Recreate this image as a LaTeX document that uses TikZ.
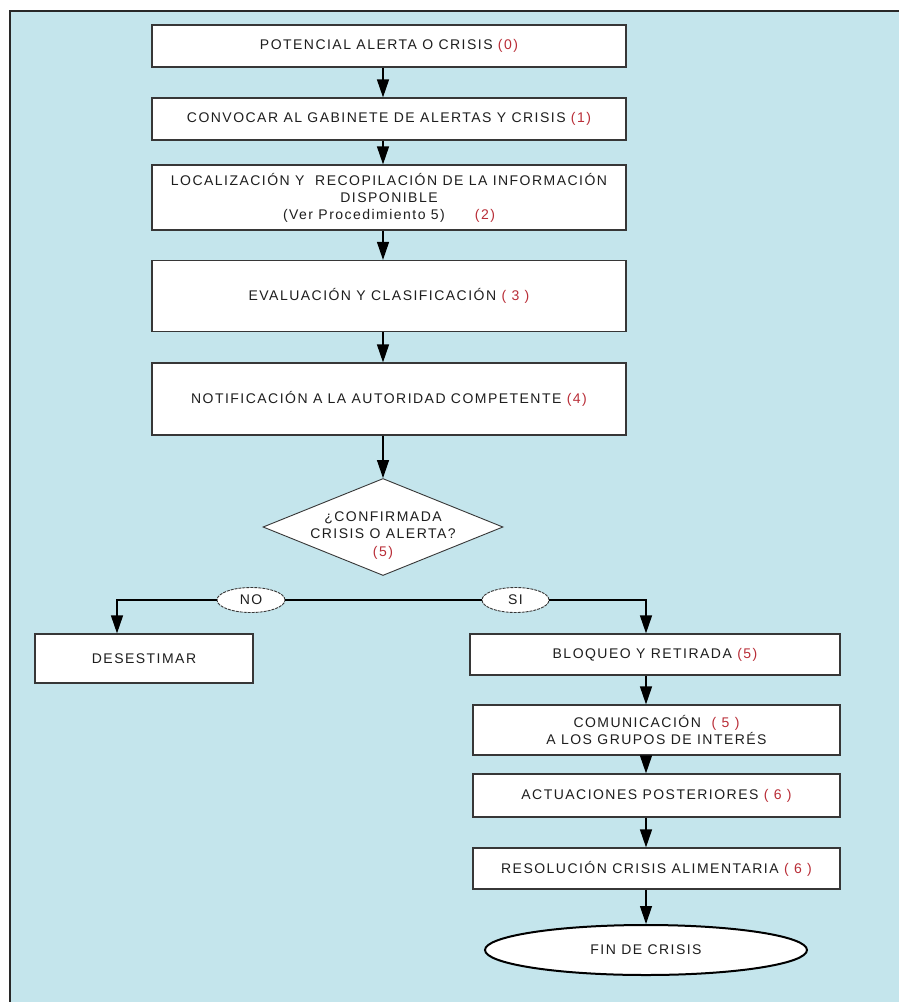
\documentclass[tikz,border=0pt]{standalone}
\usepackage{fontspec}
\newfontfamily\chartfont{Liberation Sans}[LetterSpace=10.5]
\usetikzlibrary{shapes.geometric,arrows.meta}

\definecolor{bgblue}{RGB}{196,229,236}
\definecolor{framegray}{RGB}{40,40,40}
\definecolor{boxline}{RGB}{55,55,55}
\definecolor{textgray}{RGB}{30,30,30}
\definecolor{numred}{RGB}{185,45,55}
\newcommand{\stepnum}[1]{\textcolor{numred}{#1}}

\tikzset{
  stepbox/.style={draw=boxline, line width=1.2pt, fill=white, align=center,
    font=\chartfont\fontsize{14}{17}\selectfont, text=textgray, inner sep=0pt},
  decision/.style={diamond, draw=boxline, line width=0.9pt, fill=white, align=center,
    font=\chartfont\fontsize{14}{17.5}\selectfont, text=textgray,
    inner sep=-20pt, aspect=2.4},
  answer/.style={ellipse, draw=boxline, line width=0.9pt, dash pattern=on 3pt off 1pt,
    fill=white, font=\chartfont\fontsize{14}{17}\selectfont, text=textgray, inner sep=0pt},
  endnode/.style={ellipse, draw=black, line width=2pt, fill=white,
    font=\chartfont\fontsize{14}{17}\selectfont, text=textgray, inner sep=0pt},
  flow/.style={line width=1.2pt, -{Triangle[length=18pt,width=12pt]}},
}

\begin{document}
\begin{tikzpicture}[x=1pt, y=-1pt]
  \useasboundingbox (0,0) rectangle (899,1002);
  % frame
  \fill[bgblue] (10,11) rectangle (899,1002);
  \draw[framegray, line width=2pt] (10,1002) -- (10,11) -- (899,11);

  % main column
  \node[stepbox, minimum width=474pt, minimum height=42pt] (b-0) at (389,46)
    {POTENCIAL ALERTA O CRISIS \stepnum{(0)}};
  \node[stepbox, minimum width=474pt, minimum height=42pt] (b-1) at (389,119)
    {CONVOCAR AL GABINETE DE ALERTAS Y CRISIS \stepnum{(1)}};
  \node[stepbox, minimum width=474pt, minimum height=65pt] (b-2) at (389,197.5)
    {LOCALIZACIÓN Y \ RECOPILACIÓN DE LA INFORMACIÓN\\DISPONIBLE\\
     (Ver Procedimiento 5)\hspace{30pt}\stepnum{(2)}};
  \node[stepbox, minimum width=474pt, minimum height=71pt] (b-3) at (389,296)
    {EVALUACIÓN Y CLASIFICACIÓN \stepnum{( 3 )}};
  \node[stepbox, minimum width=474pt, minimum height=72pt] (b-4) at (389,399)
    {NOTIFICACIÓN A LA AUTORIDAD COMPETENTE \stepnum{(4)}};

  \node[decision, minimum width=240pt, minimum height=97pt] (dec) at (383,527)
    {\rule{0pt}{26pt}¿CONFIRMADA\\CRISIS O ALERTA?\\\stepnum{(5)}};

  % answers
  \node[answer, minimum width=68pt, minimum height=25pt] (no) at (251,600) {NO};
  \node[answer, minimum width=67pt, minimum height=25pt] (si) at (515.5,600) {SI};

  \node[stepbox, minimum width=218pt, minimum height=49pt] (des) at (144,658.5)
    {DESESTIMAR};

  % right column
  \node[stepbox, minimum width=370pt, minimum height=41pt] (r-1) at (655,654.5)
    {BLOQUEO Y RETIRADA \stepnum{(5)}};
  \node[stepbox, minimum width=367pt, minimum height=50pt] (r-2) at (656.5,730)
    {COMUNICACIÓN \ \stepnum{( 5 )}\\A LOS GRUPOS DE INTERÉS};
  \node[stepbox, minimum width=367pt, minimum height=43pt] (r-3) at (656.5,795.5)
    {ACTUACIONES POSTERIORES \stepnum{( 6 )}};
  \node[stepbox, minimum width=367pt, minimum height=41pt] (r-4) at (656.5,868.5)
    {RESOLUCIÓN CRISIS ALIMENTARIA \stepnum{( 6 )}};
  \node[endnode, minimum width=322pt, minimum height=50pt] (fin) at (646,950)
    {FIN DE CRISIS};

  % connectors
  \foreach \from/\to in {b-0/b-1, b-1/b-2, b-2/b-3, b-3/b-4} {
    \draw[flow] (\from.south -| dec) -- (\to.north -| dec);
  }
  \draw[flow] (b-4.south -| dec) -- (dec.north);

  \draw[line width=1.2pt] (no.east) -- (si.west);
  \draw[flow] (no.west) -| ([xshift=-27pt]des.north);
  \draw[flow] (si.east) -| (r-1.north -| fin);

  \foreach \from/\to in {r-1/r-2, r-2/r-3, r-3/r-4} {
    \draw[flow] (\from.south -| fin) -- (\to.north -| fin);
  }
  \draw[flow] (r-4.south -| fin) -- (fin.north);
\end{tikzpicture}
\end{document}
